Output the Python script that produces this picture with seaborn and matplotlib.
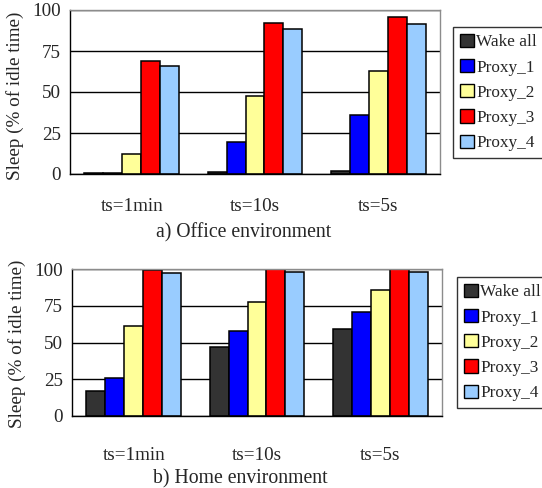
import matplotlib
matplotlib.use("Agg")
import matplotlib.pyplot as plt
from matplotlib.patches import Patch
import seaborn as sns
import pandas as pd

categories = ["ts=1min", "ts=10s", "ts=5s"]
series = ["Wake all", "Proxy_1", "Proxy_2", "Proxy_3", "Proxy_4"]

office_wake_all = [0.4, 1.0, 1.8]
office_proxy_1 = [0.4, 19.5, 36.2]
office_proxy_2 = [12.2, 47.6, 62.6]
office_proxy_3 = [69.1, 92.3, 95.7]
office_proxy_4 = [65.9, 88.2, 91.5]

home_wake_all = [17.2, 47.1, 59.0]
home_proxy_1 = [25.8, 57.5, 70.8]
home_proxy_2 = [61.1, 77.8, 86.0]
home_proxy_3 = [99.5, 99.8, 100.0]
home_proxy_4 = [97.5, 98.0, 97.7]

yticks = [0, 25, 50, 75, 100]
colors = ["#333333", "#0000FF", "#FFFF99", "#FF0000", "#99CCFF"]
ylabel = "Sleep (% of idle time)"
captions = ["a) Office environment", "b) Home environment"]

sns.set_style("white")
plt.rcParams["font.family"] = ["Liberation Serif", "DejaVu Serif"]


def long_df(vals):
    rows = []
    for s, v in zip(series, vals):
        for c, x in zip(categories, v):
            rows.append({"category": c, "series": s, "value": x})
    return pd.DataFrame(rows)


office = long_df([office_wake_all, office_proxy_1, office_proxy_2, office_proxy_3, office_proxy_4])
home = long_df([home_wake_all, home_proxy_1, home_proxy_2, home_proxy_3, home_proxy_4])

W, H = 542, 488
fig = plt.figure(figsize=(W / 100, H / 100), dpi=100)

# axes boxes in pixel coords: left, right, top, bottom
boxes = [(70, 440, 10, 174), (72, 442, 269, 416)]
label_pads = [17.5, 22.5]
legend_pos = [(453, 27), (457, 277)]
cap_pos = [(244, 233), (240, 479)]
ylab_pos = [(15, 96), (17, 344)]

FS = 13.8
for i, df in enumerate([office, home]):
    l, r, t, b = boxes[i]
    ax = fig.add_axes([l / W, 1 - b / H, (r - l) / W, (b - t) / H])
    sns.barplot(data=df, x="category", y="value", hue="series", order=categories,
                hue_order=series, palette=colors, edgecolor="black", linewidth=1.1,
                width=0.77, errorbar=None, saturation=1, ax=ax, legend=False)
    ax.set_xlim(-0.5, 2.5)
    ax.set_ylim(0, 100)
    ax.set_yticks(yticks)
    ax.set_yticklabels([str(v) for v in yticks], fontsize=FS)
    ax.set_xticks(range(len(categories)))
    ax.set_xticklabels(categories, fontsize=FS)
    ax.set_xticks([-0.5, 0.5, 1.5, 2.5], minor=True)
    ax.tick_params(axis="x", which="major", length=0, pad=label_pads[i])
    ax.tick_params(axis="x", which="minor", length=6, width=1, color="black", direction="out")
    ax.tick_params(axis="y", which="major", length=5, width=1, color="black", direction="out", pad=1.5)
    ax.set_xlabel("")
    ax.set_ylabel("")
    ax.yaxis.grid(True, color="black", linewidth=1)
    ax.set_axisbelow(True)
    for side in ["left", "bottom"]:
        ax.spines[side].set_color("black")
        ax.spines[side].set_linewidth(1)
    for side in ["top", "right"]:
        ax.spines[side].set_color("#8c8c8c")
        ax.spines[side].set_linewidth(1)
    handles = [Patch(facecolor=c, edgecolor="black", linewidth=1, label=s) for c, s in zip(colors, series)]
    lx, ly = legend_pos[i]
    leg = fig.legend(handles=handles, loc="upper left", bbox_to_anchor=(lx / W, 1 - ly / H),
                     bbox_transform=fig.transFigure, borderaxespad=0, fontsize=12.4,
                     handlelength=0.8, handleheight=0.8, handletextpad=0.15,
                     labelspacing=0.5, borderpad=0.4, fancybox=False, frameon=True)
    leg.get_frame().set_edgecolor("black")
    leg.get_frame().set_linewidth(1)
    cx, cy = cap_pos[i]
    fig.text(cx / W, 1 - cy / H, captions[i], ha="center", va="center", fontsize=14.2)
    yx, yy = ylab_pos[i]
    fig.text(yx / W, 1 - yy / H, ylabel, ha="center", va="center", rotation=90, fontsize=FS)

fig.savefig("out.png", dpi=100, facecolor="white")
